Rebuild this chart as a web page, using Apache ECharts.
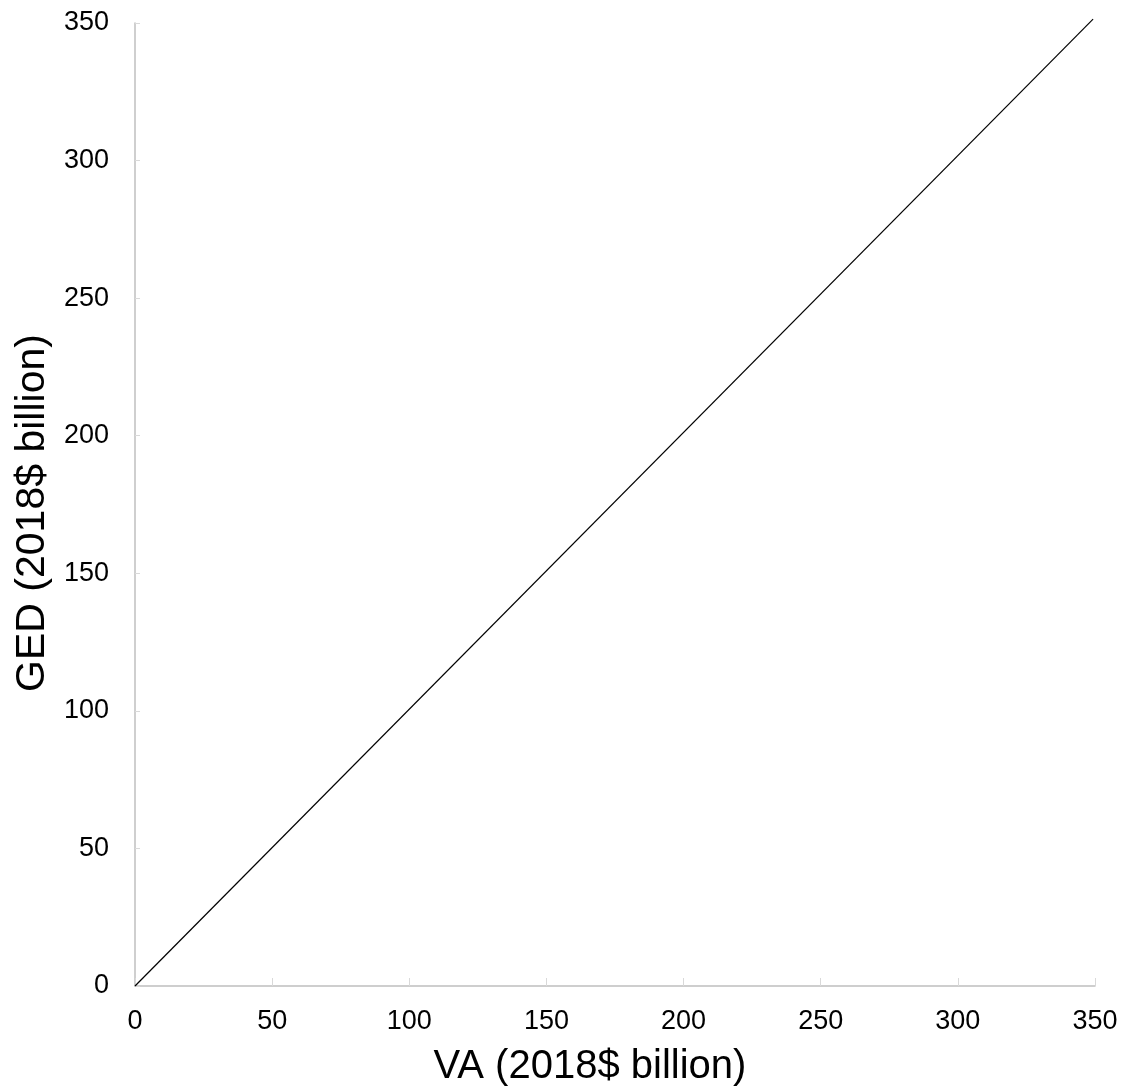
<!DOCTYPE html>
<html><head><meta charset="utf-8">
<script src="https://cdn.jsdelivr.net/npm/echarts@6/dist/echarts.min.js"></script>
<style>html,body{margin:0;padding:0;background:#fff}#c{width:1125px;height:1092px}</style>
</head><body><div id="c"></div>
<script>
var xName = 'VA (2018$ billion)';
var yName = 'GED (2018$ billion)';
var axisMin = 0, axisMax = 350, axisStep = 50;
var lineX = [0, 349.3];
var lineY = [0, 351.4];

var chart = echarts.init(document.getElementById('c'));
var font = 'Liberation Sans, Arial, sans-serif';
chart.setOption({
  animation: false,
  grid: {left: 135, right: 30, top: 23, bottom: 106},
  xAxis: {
    type: 'value', min: axisMin, max: axisMax, interval: axisStep,
    name: xName, nameLocation: 'middle', nameGap: 61,
    nameTextStyle: {fontFamily: font, fontSize: 40, color: '#000', padding: [0, 50, 0, 0]},
    axisLine: {show: true, lineStyle: {color: '#bfbfbf', width: 1.5}},
    axisTick: {show: true, inside: true, length: 8, lineStyle: {color: '#d9d9d9'}},
    axisLabel: {fontFamily: font, fontSize: 27, color: '#000', margin: 22},
    splitLine: {show: false}
  },
  yAxis: {
    type: 'value', min: axisMin, max: axisMax, interval: axisStep,
    name: yName, nameLocation: 'middle', nameGap: 77,
    nameTextStyle: {fontFamily: font, fontSize: 41, color: '#000', padding: [0, 17, 0, 0]},
    axisLine: {show: true, lineStyle: {color: '#bfbfbf', width: 1.5}},
    axisTick: {show: true, inside: true, length: 5, lineStyle: {color: '#d9d9d9'}},
    axisLabel: {fontFamily: font, fontSize: 27, color: '#000', margin: 26},
    splitLine: {show: false}
  },
  series: [{
    type: 'line', clip: false, symbol: 'none',
    data: lineX.map(function(x, i){ return [x, lineY[i]]; }),
    lineStyle: {color: '#000', width: 1.2}
  }]
});
</script></body></html>
